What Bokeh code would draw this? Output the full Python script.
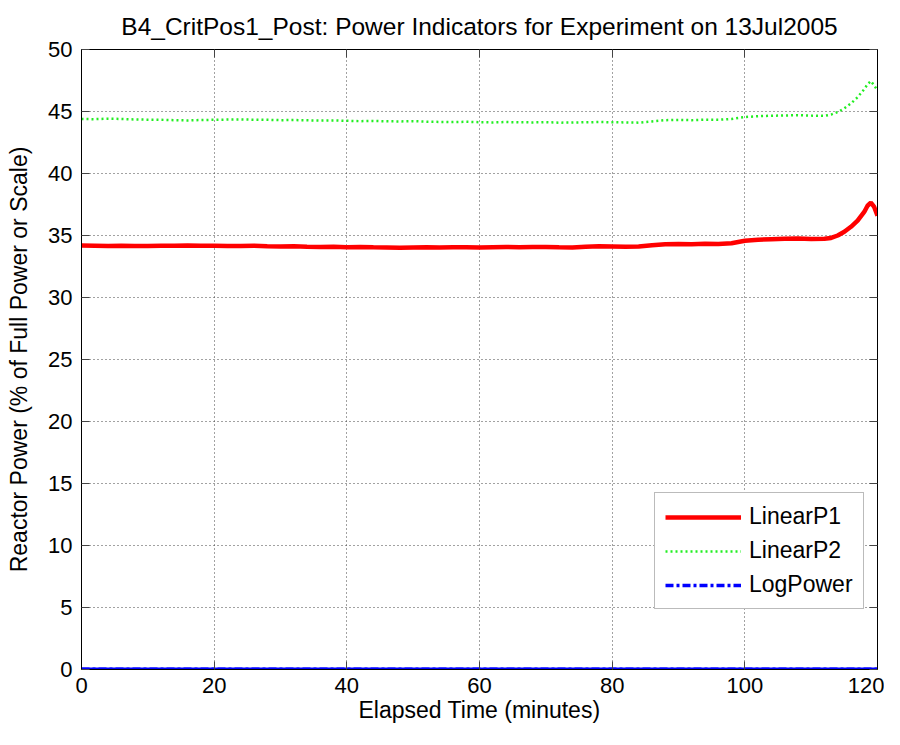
from bokeh.plotting import figure
from bokeh.models import LinearAxis, Legend, LegendItem, FixedTicker, Range1d
from bokeh.embed import file_html
from bokeh.resources import INLINE

# ---- data ----
t = [0, 2, 4, 6, 8, 10, 12, 14, 16, 18, 20, 22, 24, 26, 28, 30, 32, 34, 36, 38,
     40, 42, 44, 46, 48, 50, 52, 54, 56, 58, 60, 62, 64, 66, 68, 70, 72, 74, 76,
     78, 80, 82, 84, 86, 88, 90, 92, 94, 96, 98, 100, 102, 104, 106, 108, 110,
     112, 113, 114, 115, 116, 117, 118, 118.5, 119, 119.5, 120]

linear_p1 = [34.20, 34.18, 34.16, 34.17, 34.15, 34.16, 34.18, 34.17, 34.19, 34.18,
             34.17, 34.16, 34.15, 34.17, 34.14, 34.12, 34.13, 34.10, 34.08, 34.09,
             34.06, 34.07, 34.05, 34.04, 34.02, 34.04, 34.05, 34.03, 34.06, 34.05,
             34.04, 34.06, 34.07, 34.06, 34.08, 34.07, 34.05, 34.04, 34.10, 34.14,
             34.12, 34.10, 34.11, 34.22, 34.30, 34.31, 34.30, 34.33, 34.32, 34.38,
             34.58, 34.66, 34.70, 34.73, 34.75, 34.72, 34.74, 34.80, 35.00, 35.30,
             35.70, 36.20, 36.90, 37.40, 37.65, 37.30, 36.60]

linear_p2 = [44.40, 44.38, 44.42, 44.40, 44.36, 44.34, 44.33, 44.30, 44.28, 44.31,
             44.33, 44.35, 44.36, 44.34, 44.33, 44.30, 44.31, 44.29, 44.27, 44.28,
             44.25, 44.22, 44.24, 44.21, 44.20, 44.22, 44.18, 44.16, 44.15, 44.17,
             44.14, 44.12, 44.15, 44.13, 44.12, 44.14, 44.10, 44.11, 44.13, 44.15,
             44.13, 44.12, 44.10, 44.20, 44.30, 44.32, 44.30, 44.34, 44.33, 44.40,
             44.55, 44.62, 44.66, 44.68, 44.70, 44.67, 44.65, 44.75, 44.95, 45.25,
             45.65, 46.15, 46.80, 47.20, 47.45, 47.10, 46.70]

t_log = [0, 30, 60, 90, 120]
log_power = [0.03, 0.03, 0.03, 0.03, 0.03]

x_ticks = [0, 20, 40, 60, 80, 100, 120]
y_ticks = [0, 5, 10, 15, 20, 25, 30, 35, 40, 45, 50]

title_text = "B4_CritPos1_Post: Power Indicators for Experiment on 13Jul2005"
x_label = "Elapsed Time (minutes)"
y_label = "Reactor Power (% of Full Power or Scale)"

FONT = "Liberation Sans"

p = figure(width=884, height=729, x_range=Range1d(0, 120), y_range=Range1d(0, 50),
           output_backend="svg", toolbar_location=None, title=title_text,
           min_border_left=81, min_border_right=7, min_border_top=49,
           min_border_bottom=60)

p.title.align = "center"
p.title.text_font = FONT
p.title.text_font_size = "24.5px"
p.title.text_font_style = "normal"
p.title.text_color = "black"
p.title.standoff = 19

p.outline_line_color = "black"
p.outline_line_width = 1
p.background_fill_color = "white"
p.border_fill_color = "white"


def style_axis(ax, show_labels=True):
    ax.axis_line_color = "black"
    ax.major_tick_line_color = "#444444"
    ax.major_tick_in = 8
    ax.major_tick_out = 0
    ax.minor_tick_line_color = None
    ax.major_label_text_font = FONT
    ax.major_label_text_color = "black"
    if show_labels:
        ax.major_label_text_font_size = "22px"
    else:
        ax.major_label_text_font_size = "0px"
        ax.major_label_standoff = 0
    ax.axis_label_text_font = FONT
    ax.axis_label_text_font_size = "23px"
    ax.axis_label_text_font_style = "normal"
    ax.axis_label_text_color = "black"


p.xaxis.ticker = FixedTicker(ticks=x_ticks)
p.yaxis.ticker = FixedTicker(ticks=y_ticks)
p.xaxis.axis_label = x_label
p.yaxis.axis_label = y_label
style_axis(p.xaxis[0])
style_axis(p.yaxis[0])
p.xaxis.major_label_standoff = 8
p.xaxis.axis_label_standoff = 1
p.yaxis.major_label_standoff = 9
p.yaxis.axis_label_standoff = 13

top_ax = LinearAxis(ticker=FixedTicker(ticks=x_ticks))
right_ax = LinearAxis(ticker=FixedTicker(ticks=y_ticks))
style_axis(top_ax, False)
style_axis(right_ax, False)
p.add_layout(top_ax, "above")
p.add_layout(right_ax, "right")

p.xgrid.ticker = FixedTicker(ticks=x_ticks)
p.ygrid.ticker = FixedTicker(ticks=y_ticks)
for g in (p.xgrid[0], p.ygrid[0]):
    g.grid_line_color = "#444444"
    g.grid_line_dash = "1 3"
    g.grid_line_width = 1

r1 = p.line(t, linear_p1, line_color="#ff0000", line_width=4.5)
r2 = p.line(t, linear_p2, line_color="#22ee22", line_width=2.5, line_dash="2 3")
r3 = p.line(t_log, log_power, line_color="#0000ff", line_width=3.5)
r3_dash = p.line(t_log, log_power, line_color="#0000ff", line_width=3.5,
                 line_dash="8 3 3 3")

legend = Legend(items=[LegendItem(label="LinearP1", renderers=[r1]),
                       LegendItem(label="LinearP2", renderers=[r2]),
                       LegendItem(label="LogPower", renderers=[r3_dash])],
                location=(573, 60))
legend.label_text_font = FONT
legend.label_text_font_size = "23px"
legend.label_text_color = "black"
legend.glyph_width = 76
legend.glyph_height = 26
legend.label_height = 26
legend.label_standoff = 8
legend.spacing = 7
legend.padding = 10
legend.margin = 0
legend.border_line_color = "#777777"
legend.border_line_width = 1
legend.background_fill_color = "white"
legend.background_fill_alpha = 1
p.add_layout(legend)

open("out.html", "w").write(file_html(p, INLINE))
